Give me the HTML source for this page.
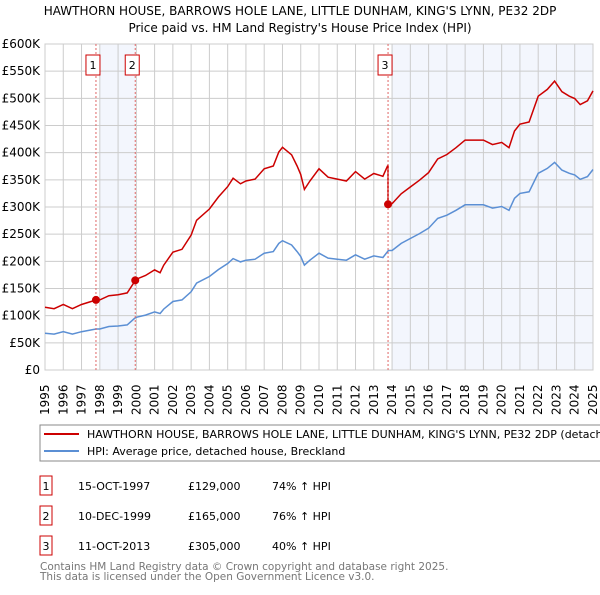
<!DOCTYPE html>
<html><head><meta charset="utf-8"><style>
body{margin:0;background:#fff;font-family:"Liberation Sans","DejaVu Sans",sans-serif;}
svg text{font-family:"DejaVu Sans","Liberation Sans",sans-serif;}
</style></head><body>
<svg id="c" width="600" height="590" xmlns="http://www.w3.org/2000/svg">
<text x="300" y="15" text-anchor="middle" font-size="12">HAWTHORN HOUSE, BARROWS HOLE LANE, LITTLE DUNHAM, KING'S LYNN, PE32 2DP</text>
<text x="300" y="32" text-anchor="middle" font-size="12">Price paid vs. HM Land Registry's House Price Index (HPI)</text>
<g id="grid"></g><g id="marks"></g>
<rect x="40" y="425" width="580" height="36" fill="#fff" stroke="#888"/>
<line x1="44" y1="434" x2="79" y2="434" stroke="#cc0000" stroke-width="2"/>
<text x="87" y="438" font-size="11">HAWTHORN HOUSE, BARROWS HOLE LANE, LITTLE DUNHAM, KING'S LYNN, PE32 2DP (detached house)</text>
<line x1="44" y1="451" x2="79" y2="451" stroke="#5b8fd4" stroke-width="2"/>
<text x="87" y="455" font-size="11">HPI: Average price, detached house, Breckland</text>
<g id="table" font-size="11"></g>
<text x="40" y="570" font-size="10.5" fill="#777">Contains HM Land Registry data © Crown copyright and database right 2025.</text>
<text x="40" y="580" font-size="10.5" fill="#777">This data is licensed under the Open Government Licence v3.0.</text>
</svg>
<script>
const hpiYears=[1995,1995.5,1996,1996.5,1997,1997.5,1997.8,1998,1998.5,1999,1999.5,1999.9,2000,2000.5,2001,2001.3,2001.5,2002,2002.5,2003,2003.3,2004,2004.5,2005,2005.3,2005.7,2006,2006.5,2007,2007.5,2007.8,2008,2008.5,2008.8,2009,2009.2,2009.5,2010,2010.5,2011,2011.5,2012,2012.5,2013,2013.5,2013.8,2014,2014.5,2015,2015.5,2016,2016.5,2017,2017.5,2018,2018.5,2019,2019.5,2020,2020.4,2020.7,2021,2021.5,2022,2022.5,2022.9,2023.3,2023.7,2024,2024.3,2024.7,2025];
const hpiValues=[67.5,66,70.5,66,70.5,73.6,75.5,75.5,80,81,83,95,97,101,107,104,112,126,129,144,160,172,185,196,205,199,202,204,215,218,233,238,230,218,209,193,202,215,206,204,202,212,204,210,207,220,220,233,242,251,261,279,285,294,304,304,304,298,301,294,316,325,328,362,371,382,368,362,359,351,356,369];
const saleDates=[1997.79,1999.94,2013.78];
const salePrices=[129,165,305];
const saleLabels=["1","2","3"];
const saleDateText=["15-OCT-1997","10-DEC-1999","11-OCT-2013"];
const salePriceText=["£129,000","£165,000","£305,000"];
const saleHpiText=["74% ↑ HPI","76% ↑ HPI","40% ↑ HPI"];
const yTicks=[0,50,100,150,200,250,300,350,400,450,500,550,600];
const xTicks=[1995,1996,1997,1998,1999,2000,2001,2002,2003,2004,2005,2006,2007,2008,2009,2010,2011,2012,2013,2014,2015,2016,2017,2018,2019,2020,2021,2022,2023,2024,2025];
const NS="http://www.w3.org/2000/svg";
const X0=45,X1=593,Y0=370,Y1=44;
const xs=t=>X0+(t-1995)/30*(X1-X0);
const ys=v=>Y0-v/600*(Y0-Y1);
function mk(tag,at,parent){const e=document.createElementNS(NS,tag);for(const k in at)e.setAttribute(k,at[k]);parent.appendChild(e);return e;}
const grid=document.getElementById('grid'),marks=document.getElementById('marks'),table=document.getElementById('table');
function hpiAt(t){for(let i=1;i<hpiYears.length;i++){if(t<=hpiYears[i]){const a=hpiYears[i-1],b=hpiYears[i];return hpiValues[i-1]+(hpiValues[i]-hpiValues[i-1])*(t-a)/(b-a);}}return hpiValues[hpiValues.length-1];}
const sh1=Math.ceil(saleDates[0]),sh3=Math.ceil(saleDates[2]);
let s=mk('rect',{x:xs(sh1),y:Y1,width:xs(saleDates[1])-xs(sh1),height:Y0-Y1,fill:'#f3f6fd'},grid);

s=mk('rect',{x:xs(sh3),y:Y1,width:X1-xs(sh3),height:Y0-Y1,fill:'#f3f6fd'},grid);

yTicks.forEach(v=>{const y=ys(v);
 const l=mk('line',{x1:X0,x2:X1,y1:y,y2:y,stroke:'#ccc'},grid);
 
 const t=mk('text',{x:40,y:y+4,'text-anchor':'end','font-size':12},grid);t.textContent=v===0?'£0':'£'+v+'K';
 });
xTicks.forEach(yr=>{const x=xs(yr);
 const l=mk('line',{x1:x,x2:x,y1:Y1,y2:Y0,stroke:'#ccc'},grid);
 
 const t=mk('text',{x:0,y:0,'font-size':12,transform:`translate(${x+4},415) rotate(-90)`},grid);t.textContent=yr;
 });
let d=hpiYears.map((t,i)=>(i?'L':'M')+xs(t).toFixed(1)+','+ys(hpiValues[i]).toFixed(1)).join('');
let p=mk('path',{d:d,fill:'none',stroke:'#5b8fd4','stroke-width':1.5},marks);

function ratioAt(t){let k=0;for(let i=0;i<saleDates.length;i++)if(t>=saleDates[i])k=i;return salePrices[k]/hpiAt(saleDates[k]);}
const pts=[];hpiYears.forEach((t,i)=>{
 saleDates.forEach((sd,j)=>{if(j>0&&sd>(i?hpiYears[i-1]:0)&&sd<=t){pts.push([sd,salePrices[j-1]/hpiAt(saleDates[j-1])*hpiAt(sd)]);pts.push([sd,salePrices[j]]);}});
 pts.push([t,hpiValues[i]*ratioAt(t)]);});
d=pts.map((q,i)=>(i?'L':'M')+xs(q[0]).toFixed(1)+','+ys(q[1]).toFixed(1)).join('');
p=mk('path',{d:d,fill:'none',stroke:'#cc0000','stroke-width':1.5},marks);

saleDates.forEach((sd,i)=>{const x=xs(sd);
 const l=mk('line',{x1:x,x2:x,y1:Y1,y2:Y0,stroke:'#e06666','stroke-dasharray':'2,2'},marks);
 
 const c=mk('circle',{cx:x,cy:ys(salePrices[i]),r:4,fill:'#cc0000'},marks);
 
 const b=mk('rect',{x:x-10,y:55,width:14,height:20,fill:'#fff',stroke:'#cc0000'},marks);
 
 const t=mk('text',{x:x-3,y:69,'text-anchor':'middle','font-size':11},marks);t.textContent=saleLabels[i];
 
 const ry=476+i*30;
 const tb=mk('rect',{x:40,y:ry,width:12,height:19,fill:'#fff',stroke:'#cc0000'},table);
 
 const tt=mk('text',{x:46,y:ry+14,'text-anchor':'middle'},table);tt.textContent=saleLabels[i];
 
 const t1=mk('text',{x:78,y:ry+14},table);t1.textContent=saleDateText[i];
 
 const t2=mk('text',{x:188,y:ry+14},table);t2.textContent=salePriceText[i];
 
 const t3=mk('text',{x:272,y:ry+14},table);t3.textContent=saleHpiText[i];
 });
const f=mk('rect',{x:X0,y:Y1,width:X1-X0,height:Y0-Y1,fill:'none',stroke:'#ccc'},grid);

</script>
</body></html>
